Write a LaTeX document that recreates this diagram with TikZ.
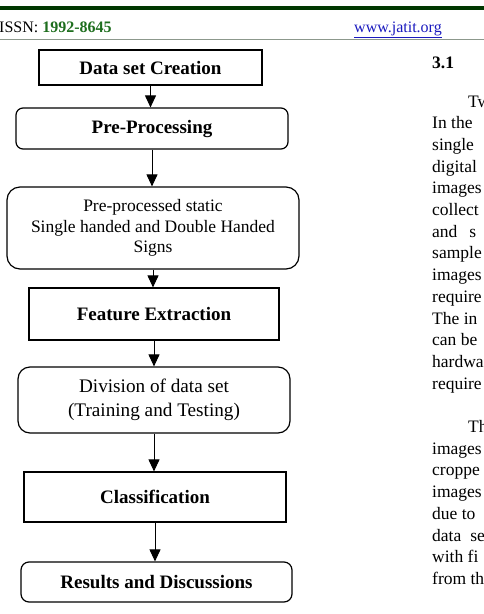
\documentclass[tikz,border=0pt]{standalone}
\usepackage{fontspec}
\setmainfont{Liberation Serif}
\usetikzlibrary{arrows.meta}
\definecolor{bandgreen}{RGB}{0,55,0}
\definecolor{issngreen}{RGB}{30,110,30}
\definecolor{linkblue}{RGB}{25,25,190}
\definecolor{rulegray}{RGB}{140,152,140}
\begin{document}
\begin{tikzpicture}[x=1pt,y=-1pt,
  box/.style={draw=black, line width=1.2pt, inner sep=0pt, align=center,
    font=\fontsize{19}{23}\selectfont\bfseries},
  rbox/.style={box, rounded corners=#1},
  flow/.style={line width=1pt, -{Triangle[width=11pt,length=12pt]}},
  col/.style={anchor=base west, inner sep=0pt, font=\fontsize{17.5}{21}\selectfont},
  hdr/.style={anchor=base west, inner sep=0pt, font=\fontsize{16}{18}\selectfont},
]
\useasboundingbox (0,0) rectangle (484,614);
\clip (0,0) rectangle (484,614);

% page header
\fill[bandgreen] (0,6) rectangle (484,9.5);
\draw[rulegray, line width=1pt] (0,39.5) -- (484,39.5);
\node[hdr] (issn) at (-1,32) {ISSN: \textcolor{issngreen}{\bfseries 1992-8645}};
\node[hdr] (site) at (354,32) {\textcolor{linkblue}{\underline{www.jatit.org}}};

% flow chart
\node[box, minimum width=223pt, minimum height=35pt] (create) at (150.5,67.5) {Data set Creation};
\node[rbox=7pt, minimum width=272pt, minimum height=41pt] (prep) at (152,128.5) {Pre-Processing};
\node[rbox=13pt, minimum width=292pt, minimum height=82pt,
      font=\fontsize{17.5}{20.5}\selectfont] (signs) at (153,228)
      {Pre-processed static\\Single handed and Double Handed\\Signs};
\node[box, minimum width=250pt, minimum height=52pt] (feat) at (154,314) {Feature Extraction};
\node[rbox=12pt, minimum width=272pt, minimum height=66pt,
      font=\fontsize{19.2}{24.5}\selectfont] (split) at (154,400)
      {Division of data set\\(Training and Testing)};
\node[box, minimum width=262pt, minimum height=50pt] (cls) at (155,497) {Classification};
\node[rbox=8pt, minimum width=271pt, minimum height=40pt] (res) at (156.5,582) {Results and Discussions};

\draw[flow] (create.south) -- (create.south |- prep.north);
\draw[flow] (prep.south) -- (prep.south |- signs.north);
\draw[flow] (signs.south) -- (signs.south |- feat.north);
\draw[flow] (feat.south) -- (feat.south |- split.north);
\draw[flow] (split.south) -- (split.south |- cls.north);
\draw[flow] (cls.south) -- (cls.south |- res.north);

% text column on the right, cut by the page edge
\node[col, font=\fontsize{17.5}{21}\selectfont\bfseries] (sec) at (432,68) {3.1};
\node[col] (pahead) at (468,107) {Tw};
\foreach \t [count=\i from 1] in {In the, single, digital, images, collect,
    and\hspace{12pt}s, sample, images, require, The in, can be, hardwa, require}
  \node[col] (pa\i) at (432,107+21.7*\i) {\t};
\node[col] (pbhead) at (468,432.5) {Th};
\foreach \t [count=\i from 1] in {images, croppe, images, due to,
    data\hspace{9pt}se, with fi, from th}
  \node[col] (pb\i) at (432,432.5+21.7*\i) {\t};
\end{tikzpicture}
\end{document}
